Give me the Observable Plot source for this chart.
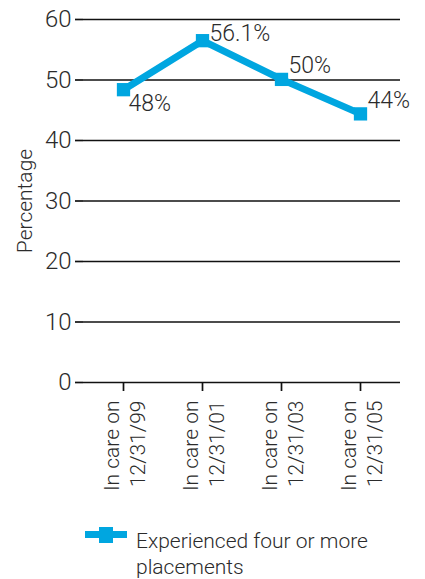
<!DOCTYPE html>
<html>
<head>
<meta charset="utf-8">
<script src="https://cdn.jsdelivr.net/npm/d3@7"></script>
<script src="https://cdn.jsdelivr.net/npm/@observablehq/plot@0.6"></script>
<style>
  body { margin: 0; background: #fff; font-family: Roboto, "Open Sans", sans-serif; color: #2b2b2b; }
  #legend { position: relative; height: 74px; }
  #legend .sw { position: absolute; left: 85px; top: 26px; width: 42px; height: 7px; background: #00a6e0; }
  #legend .sq { position: absolute; left: 99px; top: 22px; width: 14px; height: 16px; background: #00a6e0; }
  #legend .tx { position: absolute; left: 136px; top: 23px; font-size: 21px; line-height: 26px; font-weight: 300; }
  svg text { font-weight: 300; }
</style>
</head>
<body>
<div id="chart"></div>
<script>
const categories = ["In care on\n12/31/99", "In care on\n12/31/01", "In care on\n12/31/03", "In care on\n12/31/05"];
const values = [48.4, 56.5, 50.1, 44.4];
const valueLabels = ["48%", "56.1%", "50%", "44%"];
const yTicks = [0, 10, 20, 30, 40, 50, 60];
const seriesName = "Experienced four or more placements";
const labelOffsets = [[5, 14], [7, -7], [7, -14], [7, -13]];

const data = categories.map((c, i) => ({cat: c, value: values[i], label: valueLabels[i], dx: labelOffsets[i][0], dy: labelOffsets[i][1]}));
const blue = "#00a6e0";
const ink = "#2b2b2b";

const plot = Plot.plot({
  width: 425,
  height: 505,
  marginLeft: 83,
  marginRight: 25,
  marginTop: 19,
  marginBottom: 123,
  style: {fontFamily: "Roboto, 'Open Sans', sans-serif", fontSize: "20px", color: ink, background: "#fff"},
  x: {type: "point", domain: categories, padding: 0.5, axis: null},
  y: {domain: [0, 60], axis: null},
  marks: [
    Plot.ruleY(yTicks, {stroke: "#111", strokeWidth: 1.7}),
    Plot.ruleX([0], {frameAnchor: "left", stroke: "#111", strokeWidth: 1.7}),
    Plot.axisY({ticks: yTicks, tickSize: 8, tickPadding: 4, stroke: "#111", strokeWidth: 1.7, label: null, fontSize: 24, fill: ink}),
    Plot.axisX({tickSize: 9, tickFormat: () => "", stroke: "#111", strokeWidth: 1.7, label: null}),
    Plot.text(categories, {x: d => d, frameAnchor: "bottom", rotate: -90, textAnchor: "end", lineAnchor: "middle", dy: 18, lineHeight: 1.25, fontSize: 21, fill: ink}),
    Plot.text(["Percentage"], {frameAnchor: "left", rotate: -90, dx: -58, dy: 0, fontSize: 21, fill: ink, textAnchor: "middle"}),
    Plot.line(data, {x: "cat", y: "value", stroke: blue, strokeWidth: 7}),
    Plot.dot(data, {x: "cat", y: "value", symbol: "square", r: 7.5, fill: blue}),
    Plot.text(data, {x: "cat", y: "value", text: "label", textAnchor: "start", fontSize: 23, fill: ink, filter: (d, i) => i === 0, dx: 5, dy: 14}),
    Plot.text(data, {x: "cat", y: "value", text: "label", textAnchor: "start", fontSize: 23, fill: ink, filter: (d, i) => i === 1, dx: 7, dy: -7}),
    Plot.text(data, {x: "cat", y: "value", text: "label", textAnchor: "start", fontSize: 23, fill: ink, filter: (d, i) => i === 2, dx: 7, dy: -14}),
    Plot.text(data, {x: "cat", y: "value", text: "label", textAnchor: "start", fontSize: 23, fill: ink, filter: (d, i) => i === 3, dx: 7, dy: -13})
  ]
});
document.getElementById("chart").appendChild(plot);

const legend = document.createElement("div");
legend.id = "legend";
legend.innerHTML = `<div class="sw"></div><div class="sq"></div><div class="tx"></div>`;
const words = seriesName.split(" ");
legend.querySelector(".tx").textContent = words.slice(0, -1).join(" ");
legend.querySelector(".tx").appendChild(document.createElement("br"));
legend.querySelector(".tx").appendChild(document.createTextNode(words[words.length - 1]));
document.getElementById("chart").appendChild(legend);
</script>
</body>
</html>
